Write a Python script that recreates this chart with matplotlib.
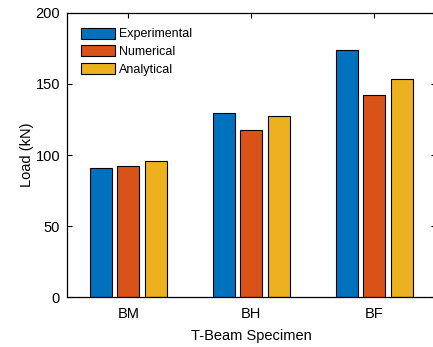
import numpy as np
import matplotlib
matplotlib.use("Agg")
import matplotlib.pyplot as plt

plt.rcParams["font.family"] = ["Liberation Sans", "DejaVu Sans"]

# load per specimen (kN)
specimens = ["BM", "BH", "BF"]
experimental = [90.7, 129.3, 173.6]
numerical = [92.3, 117.4, 142.2]
analytical = [95.6, 127.4, 153.2]

series = [("Experimental", experimental, "#0072BD"),
          ("Numerical", numerical, "#D95319"),
          ("Analytical", analytical, "#EDB120")]

fig = plt.figure(figsize=(4.33, 3.47), dpi=100)
ax = fig.add_axes([0.1548, 0.1432, 0.8515, 0.8202])

x = np.arange(1, len(specimens) + 1)
w = 0.179
offs = [-0.222, 0.0, 0.222]
for (name, vals, col), dx in zip(series, offs):
    ax.bar(x + dx, vals, width=w, color=col, edgecolor="black",
           linewidth=0.8, label=name, zorder=2)

ax.set_xlim(0.5, 3.5)
ax.set_ylim(0, 200)
ax.set_xticks(x)
ax.set_xticklabels(specimens)
ax.set_yticks([0, 50, 100, 150, 200])
ax.tick_params(direction="in", length=3.5, width=0.8, labelsize=10.5,
               top=True, right=True, colors="black")
ax.tick_params(axis="x", pad=7)
ax.tick_params(axis="y", pad=5)
for s in ax.spines.values():
    s.set_linewidth(0.9)

ax.set_xlabel("T-Beam Specimen", fontsize=10.5, labelpad=6)
ax.set_ylabel("Load (kN)", fontsize=10.5, labelpad=1)

leg = ax.legend(loc="upper left", bbox_to_anchor=(81 / 433, 1 - 27.5 / 347),
                bbox_transform=fig.transFigure, frameon=False, fontsize=9,
                handlelength=2.72, handleheight=1.0, handletextpad=0.32,
                labelspacing=0.38, borderpad=0, borderaxespad=0)

fig.savefig("out.png", dpi=100)
